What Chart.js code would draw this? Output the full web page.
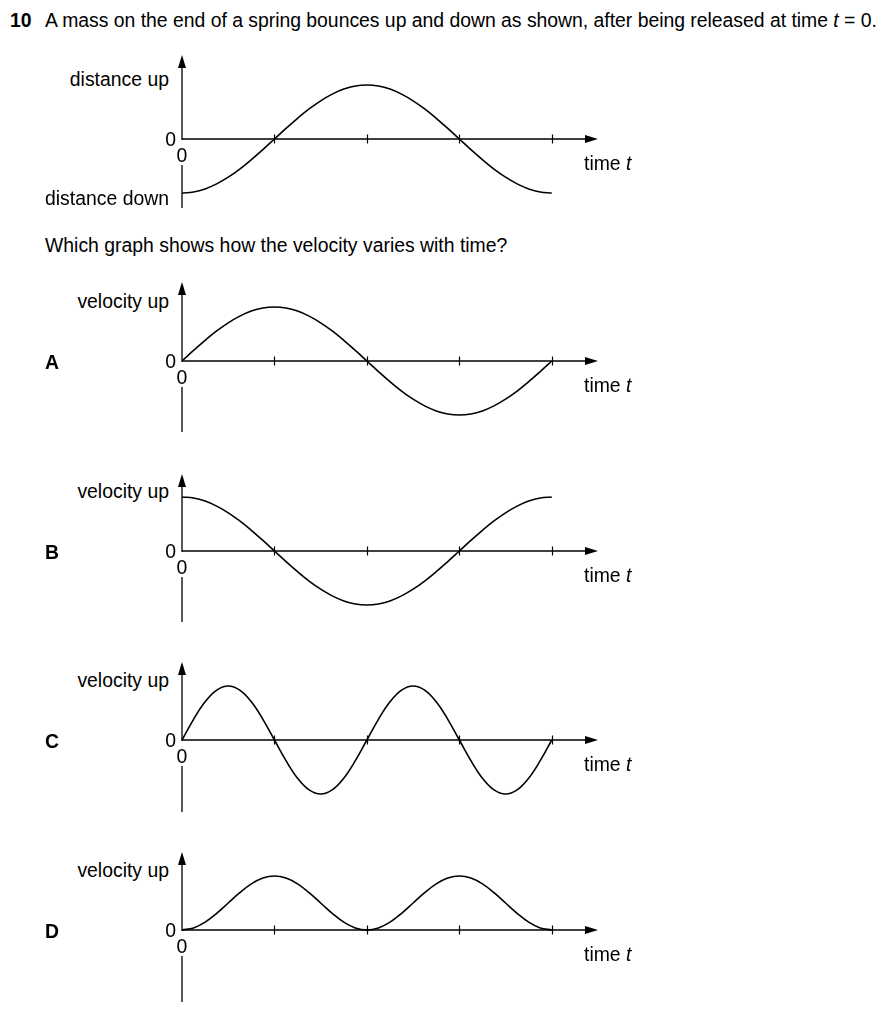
<!DOCTYPE html>
<html><head><meta charset="utf-8">
<script src="https://cdn.jsdelivr.net/npm/chart.js@4"></script>
<style>
html,body{margin:0;padding:0;background:#fff;}
body{width:886px;height:1024px;position:relative;overflow:hidden;font-family:"Liberation Sans",Arial,Helvetica,sans-serif;color:#000;}
.t{position:absolute;font-size:19.4px;line-height:22px;white-space:nowrap;}
.b{font-weight:bold;}
canvas{position:absolute;}
</style></head><body>
<script>
// ---- data (t in tick units, value in amplitude units) ----
const time = [0,0.125,0.25,0.375,0.5,0.625,0.75,0.875,1,1.125,1.25,1.375,1.5,1.625,1.75,1.875,2,2.125,2.25,2.375,2.5,2.625,2.75,2.875,3,3.125,3.25,3.375,3.5,3.625,3.75,3.875,4];
const distance = [-1,-0.981,-0.924,-0.831,-0.707,-0.556,-0.383,-0.195,0,0.195,0.383,0.556,0.707,0.831,0.924,0.981,1,0.981,0.924,0.831,0.707,0.556,0.383,0.195,0,-0.195,-0.383,-0.556,-0.707,-0.831,-0.924,-0.981,-1];
const velocityA = [0,0.195,0.383,0.556,0.707,0.831,0.924,0.981,1,0.981,0.924,0.831,0.707,0.556,0.383,0.195,0,-0.195,-0.383,-0.556,-0.707,-0.831,-0.924,-0.981,-1,-0.981,-0.924,-0.831,-0.707,-0.556,-0.383,-0.195,0];
const velocityB = [1,0.981,0.924,0.831,0.707,0.556,0.383,0.195,0,-0.195,-0.383,-0.556,-0.707,-0.831,-0.924,-0.981,-1,-0.981,-0.924,-0.831,-0.707,-0.556,-0.383,-0.195,0,0.195,0.383,0.556,0.707,0.831,0.924,0.981,1];
const velocityC = [0,0.383,0.707,0.924,1,0.924,0.707,0.383,0,-0.383,-0.707,-0.924,-1,-0.924,-0.707,-0.383,0,0.383,0.707,0.924,1,0.924,0.707,0.383,0,-0.383,-0.707,-0.924,-1,-0.924,-0.707,-0.383,0];
const velocityD = [0,0.038,0.146,0.309,0.5,0.691,0.854,0.962,1,0.962,0.854,0.691,0.5,0.309,0.146,0.038,0,0.038,0.146,0.309,0.5,0.691,0.854,0.962,1,0.962,0.854,0.691,0.5,0.309,0.146,0.038,0];
const timeTicks = [1,2,3,4];
const timeAxisMax = 4.5;
const optionLetters = ['A','B','C','D'];
const optionSeries = [velocityA, velocityB, velocityC, velocityD];

// ---- layout (pixels) ----
const PX_PER_UNIT = 54;
const AXIS_LEFT = 182, AXIS_RIGHT = 598, PAD = 10;
const graphs = [
  {values: distance, tip: 55, zero: 139, bottom: 208, up: 'distance up', down: 'distance down', letter: null},
  {values: velocityA, tip: 282, zero: 361, bottom: 432, up: 'velocity up', letter: 'A'},
  {values: velocityB, tip: 474, zero: 551, bottom: 622, up: 'velocity up', letter: 'B'},
  {values: velocityC, tip: 662, zero: 740, bottom: 812, up: 'velocity up', letter: 'C'},
  {values: velocityD, tip: 852, zero: 930, bottom: 1002, up: 'velocity up', letter: 'D'}
];

function addText(html, opts){
  const d = document.createElement('div');
  d.className = 't' + (opts.bold ? ' b' : '');
  d.innerHTML = html;
  d.style.top = (opts.y - 11) + 'px';
  if (opts.right !== undefined) d.style.right = (886 - opts.right) + 'px';
  if (opts.left !== undefined) d.style.left = opts.left + 'px';
  if (opts.center !== undefined) { d.style.left = opts.center + 'px'; d.style.transform = 'translateX(-50%)'; }
  if (opts.width !== undefined) { d.style.width = opts.width + 'px'; d.style.letterSpacing = '-0.02px'; }
  document.body.appendChild(d);
}

addText('10', {left: 10, y: 20, bold: true});
addText('A mass on the end of a spring bounces up and down as shown, after being released at time <i>t</i> = 0.', {left: 45, y: 20, width: 831});
addText('Which graph shows how the velocity varies with time?', {left: 45, y: 245});

const axesPlugin = {
  id: 'axes',
  beforeDatasetsDraw(chart) {
    const {ctx, scales: {x, y}} = chart;
    const x0 = x.getPixelForValue(0), xEnd = x.getPixelForValue(x.max);
    const y0 = y.getPixelForValue(0), yTop = y.getPixelForValue(y.max), yBot = y.getPixelForValue(y.min);
    ctx.save();
    ctx.strokeStyle = '#000'; ctx.fillStyle = '#000'; ctx.lineWidth = 1.3;
    ctx.beginPath();
    ctx.moveTo(x0, y0); ctx.lineTo(xEnd - 10, y0);
    ctx.moveTo(x0, yTop + 10); ctx.lineTo(x0, y0 + 1);
    ctx.moveTo(x0, y0 + 26); ctx.lineTo(x0, yBot);
    ctx.stroke();
    ctx.beginPath();
    ctx.lineWidth = 1.2;
    timeTicks.forEach(t => { const px = Math.round(x.getPixelForValue(t)) + 0.5; ctx.moveTo(px, y0 - 4.5); ctx.lineTo(px, y0 + 4.5); });
    ctx.stroke();
    ctx.beginPath(); ctx.moveTo(xEnd, y0); ctx.lineTo(xEnd - 13, y0 - 4); ctx.lineTo(xEnd - 13, y0 + 4); ctx.closePath(); ctx.fill();
    ctx.beginPath(); ctx.moveTo(x0, yTop); ctx.lineTo(x0 - 4, yTop + 13); ctx.lineTo(x0 + 4, yTop + 13); ctx.closePath(); ctx.fill();
    ctx.restore();
  }
};

graphs.forEach(g => {
  const cv = document.createElement('canvas');
  const w = AXIS_RIGHT - AXIS_LEFT + 2 * PAD, h = g.bottom - g.tip + 2 * PAD;
  cv.width = w; cv.height = h;
  cv.style.left = (AXIS_LEFT - PAD) + 'px'; cv.style.top = (g.tip - PAD) + 'px';
  cv.style.width = w + 'px'; cv.style.height = h + 'px';
  document.body.appendChild(cv);
  new Chart(cv, {
    type: 'line',
    data: { datasets: [{
      data: time.map((t, i) => ({x: t, y: g.values[i]})),
      borderColor: '#000', borderWidth: 1.6, pointRadius: 0, tension: 0.4, fill: false, clip: false
    }]},
    options: {
      responsive: false, animation: false, events: [], devicePixelRatio: 1,
      layout: {padding: {left: PAD, right: PAD, top: PAD, bottom: PAD}},
      plugins: {legend: {display: false}, tooltip: {enabled: false}},
      scales: {
        x: {type: 'linear', min: 0, max: timeAxisMax, display: false},
        y: {type: 'linear', min: -(g.bottom - g.zero) / PX_PER_UNIT, max: (g.zero - g.tip) / PX_PER_UNIT, display: false}
      }
    },
    plugins: [axesPlugin]
  });
  addText(g.up, {right: 169, y: g.zero - 60});
  addText('0', {right: 176, y: g.zero});
  addText('0', {center: 182, y: g.zero + 16});
  addText('time <i>t</i>', {left: 584, y: g.zero + 24});
  if (g.down) addText(g.down, {right: 169, y: g.zero + 59});
  if (g.letter) addText(g.letter, {left: 45, y: g.zero + 1, bold: true});
});
</script>
</body></html>
